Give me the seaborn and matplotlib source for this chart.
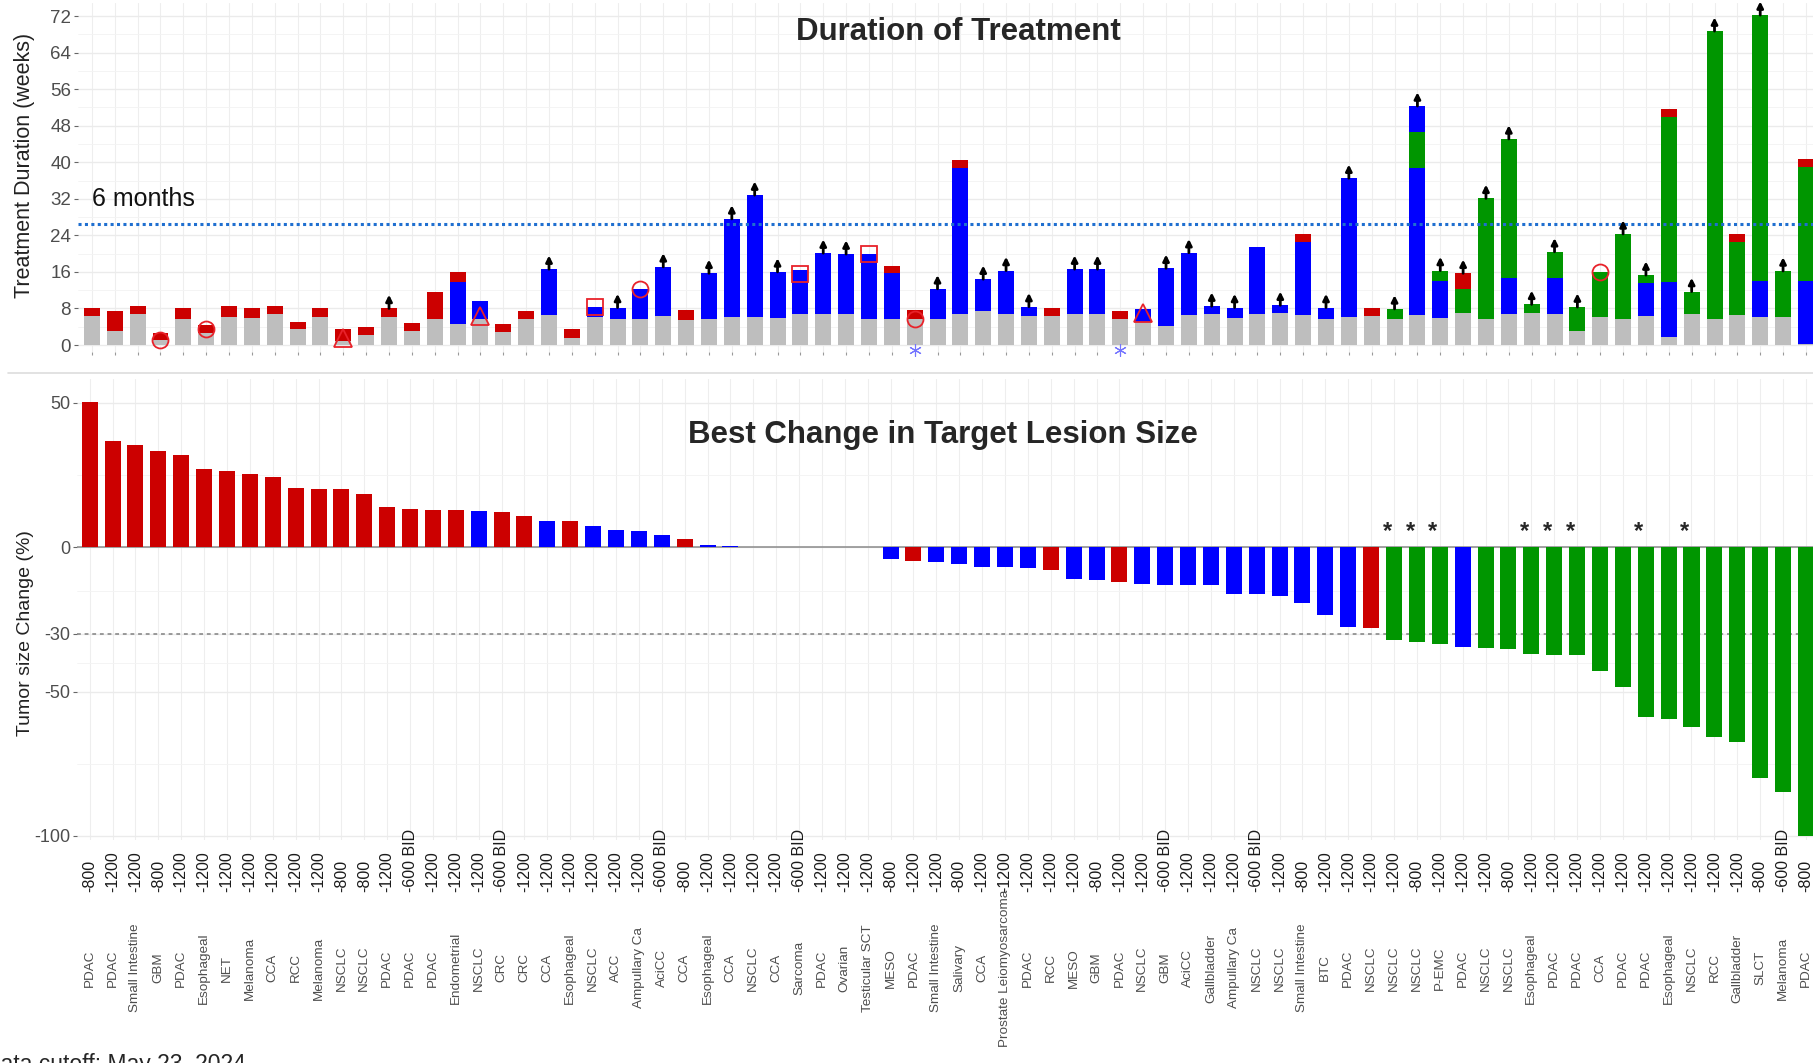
import pandas as pd
import matplotlib.pyplot as plt
import matplotlib.transforms as mtransforms
from matplotlib.lines import Line2D
import seaborn as sns

# patients, left to right
cancers = ["PDAC", "PDAC", "Small Intestine", "GBM", "PDAC", "Esophageal", "NET", "Melanoma", "CCA", "RCC",
           "Melanoma", "NSCLC", "NSCLC", "PDAC", "PDAC", "PDAC", "Endometrial", "NSCLC", "CRC", "CRC",
           "CCA", "Esophageal", "NSCLC", "ACC", "Ampullary Ca", "AciCC", "CCA", "Esophageal", "CCA", "NSCLC",
           "CCA", "Sarcoma", "PDAC", "Ovarian", "Testicular SCT", "MESO", "PDAC", "Small Intestine", "Salivary", "CCA",
           "Prostate Leiomyosarcoma", "PDAC", "RCC", "MESO", "GBM", "PDAC", "NSCLC", "GBM", "AciCC", "Gallbladder",
           "Ampullary Ca", "NSCLC", "NSCLC", "Small Intestine", "BTC", "PDAC", "NSCLC", "NSCLC", "NSCLC", "P-EMC",
           "PDAC", "NSCLC", "NSCLC", "Esophageal", "PDAC", "PDAC", "CCA", "PDAC", "PDAC", "Esophageal",
           "NSCLC", "RCC", "Gallbladder", "SLCT", "Melanoma", "PDAC"]
doses = ["-800", "-1200", "-1200", "-800", "-1200", "-1200", "-1200", "-1200", "-1200", "-1200",
         "-1200", "-800", "-800", "-1200", "-600 BID", "-1200", "-1200", "-1200", "-600 BID", "-1200",
         "-1200", "-1200", "-1200", "-1200", "-1200", "-600 BID", "-800", "-1200", "-1200", "-1200",
         "-1200", "-600 BID", "-1200", "-1200", "-1200", "-800", "-1200", "-1200", "-800", "-1200",
         "-1200", "-1200", "-1200", "-1200", "-800", "-1200", "-1200", "-600 BID", "-1200", "-1200",
         "-1200", "-600 BID", "-1200", "-800", "-1200", "-1200", "-1200", "-1200", "-800", "-1200",
         "-1200", "-1200", "-800", "-1200", "-1200", "-1200", "-1200", "-1200", "-1200", "-1200",
         "-1200", "-1200", "-1200", "-800", "-600 BID", "-800"]

# duration of treatment (weeks): grey part, then response phases (status, end week)
dur_gray = [6.3, 3.1, 6.7, 1.2, 5.8, 2.6, 6.2, 6.0, 6.7, 3.4,
            6.2, 0.8, 2.2, 6.2, 3.1, 5.6, 4.6, 5.8, 2.9, 5.6,
            6.6, 1.6, 6.2, 5.8, 5.6, 6.4, 5.5, 5.6, 6.2, 6.1,
            6.0, 6.7, 6.7, 6.7, 5.6, 5.8, 5.6, 5.6, 6.8, 7.5,
            6.7, 6.3, 6.3, 6.7, 6.7, 5.6, 5.1, 4.2, 6.6, 6.7,
            6.0, 6.7, 6.9, 6.6, 5.7, 6.2, 6.4, 5.7, 6.6, 6.0,
            6.9, 5.8, 6.8, 6.9, 6.7, 3.1, 6.2, 5.8, 6.4, 1.7,
            6.7, 5.8, 6.6, 6.2, 6.2, 0.3]
dur_phases = [
    [("PD", 8.2)], [("PD", 7.5)], [("PD", 8.5)], [("PD", 2.7)], [("PD", 8.2)],
    [("PD", 4.4)], [("PD", 8.5)], [("PD", 8.0)], [("PD", 8.5)], [("PD", 5.1)],
    [("PD", 8.0)], [("PD", 3.4)], [("PD", 3.9)], [("PD", 8.0)], [("PD", 4.9)],
    [("PD", 11.6)], [("SD", 13.7), ("PD", 16.0)], [("SD", 9.7)], [("PD", 4.7)], [("PD", 7.5)],
    [("SD", 16.6)], [("PD", 3.4)], [("SD", 8.4)], [("SD", 8.2)], [("SD", 12.2)],
    [("SD", 17.1)], [("PD", 7.7)], [("SD", 15.7)], [("SD", 27.6)], [("SD", 32.8)],
    [("SD", 16.0)], [("SD", 16.4)], [("SD", 20.1)], [("SD", 19.9)], [("SD", 19.9)],
    [("SD", 15.7), ("PD", 17.4)], [("PD", 7.7)], [("SD", 12.3)], [("SD", 38.8), ("PD", 40.5)], [("SD", 14.4)],
    [("SD", 16.3)], [("SD", 8.4)], [("PD", 8.2)], [("SD", 16.6)], [("SD", 16.6)],
    [("PD", 7.4)], [("SD", 7.8)], [("SD", 16.8)], [("SD", 20.2)], [("SD", 8.5)],
    [("SD", 8.2)], [("SD", 21.5)], [("SD", 8.7)], [("SD", 22.6), ("PD", 24.4)], [("SD", 8.2)],
    [("SD", 36.5)], [("PD", 8.2)], [("PR", 7.9)], [("SD", 38.8), ("PR", 46.6), ("SD", 52.3)], [("SD", 14.1), ("PR", 16.3)],
    [("PR", 12.2), ("PD", 15.7)], [("PR", 32.1)], [("SD", 14.7), ("PR", 45.1)], [("PR", 8.9)], [("SD", 14.7), ("PR", 20.4)],
    [("PR", 8.3)], [("PR", 16.0)], [("PR", 24.3)], [("SD", 13.6), ("PR", 15.3)], [("SD", 13.7), ("PR", 49.8), ("PD", 51.6)],
    [("PR", 11.7)], [("PR", 68.7)], [("PR", 22.6), ("PD", 24.4)], [("SD", 14.1), ("PR", 72.2)], [("PR", 16.2)],
    [("SD", 14.1), ("PR", 39.0), ("PD", 40.7)],
]
# patients still on treatment (1-based)
ongoing = [14, 21, 24, 26, 28, 29, 30, 31, 33, 34, 38, 40, 41, 42, 44, 45, 48, 49, 50, 51,
           53, 55, 56, 58, 59, 60, 61, 62, 63, 64, 65, 66, 68, 69, 71, 72, 74, 75]
circle_bars, circle_wk = [4, 6, 25, 37, 67], [1.2, 3.4, 12.3, 5.6, 16.0]
triangle_bars, triangle_wk = [12, 18, 47], [1.6, 6.4, 7.1]
square_bars, square_wk = [23, 32, 35], [8.3, 15.6, 19.9]
star_bars = [37, 46]

# best change in target lesion size (%)
best_change = [50.4, 36.8, 35.3, 33.4, 32.0, 27.0, 26.3, 25.4, 24.2, 20.6,
               20.2, 20.2, 18.3, 13.9, 13.4, 12.9, 12.8, 12.6, 12.1, 10.9,
               9.0, 9.0, 7.4, 6.0, 5.8, 4.1, 3.0, 0.8, 0.3, 0,
               0, 0, 0, 0, 0, -4.2, -4.7, -5.2, -5.7, -6.9,
               -6.9, -7.1, -7.9, -11.0, -11.3, -11.9, -12.7, -13.0, -13.0, -13.0,
               -16.2, -16.3, -16.9, -19.4, -23.4, -27.6, -28.1, -32.1, -32.8, -33.5,
               -34.4, -34.9, -35.2, -37.1, -37.2, -37.2, -42.9, -48.5, -58.7, -59.5,
               -62.1, -65.8, -67.3, -79.8, -84.7, -100]
best_resp = ["PD", "PD", "PD", "PD", "PD", "PD", "PD", "PD", "PD", "PD",
             "PD", "PD", "PD", "PD", "PD", "PD", "PD", "SD", "PD", "PD",
             "SD", "PD", "SD", "SD", "SD", "SD", "PD", "SD", "SD", "NE",
             "NE", "NE", "NE", "NE", "NE", "SD", "PD", "SD", "SD", "SD",
             "SD", "SD", "PD", "SD", "SD", "PD", "SD", "SD", "SD", "SD",
             "SD", "SD", "SD", "SD", "SD", "SD", "PD", "PR", "PR", "PR",
             "SD", "PR", "PR", "PR", "PR", "PR", "PR", "PR", "PR", "PR",
             "PR", "PR", "PR", "PR", "PR", "PR"]
confirmed = [58, 59, 60, 64, 65, 66, 69, 71]

colors = {"PD": "#CC0000", "SD": "#0000FF", "PR": "#009600", "NE": "#BEBEBE"}
GRAY = "#BEBEBE"

sns.set_theme(style="white")
plt.rcParams["font.family"] = ["Liberation Sans", "DejaVu Sans"]
plt.rcParams["axes.unicode_minus"] = False

W, H = 1813, 1063
fig = plt.figure(figsize=(W / 100, H / 100), dpi=100)
fig.patch.set_facecolor("white")

n = len(cancers)
pos = list(range(n))

# ---- top: duration of treatment ----
ax1 = fig.add_axes([78 / W, 1 - 352 / H, (W - 78) / W, 349 / H])
sns.barplot(x=pos, y=dur_gray, color=GRAY, width=0.7, errorbar=None,
            saturation=1, linewidth=0, ax=ax1)
for i in range(n):
    start = dur_gray[i]
    for status, end in dur_phases[i]:
        ax1.bar(i, end - start, bottom=start, width=0.7, color=colors[status], linewidth=0)
        start = end
    if i + 1 in ongoing:
        ax1.annotate("", xy=(i, start + 3.0), xytext=(i, start), annotation_clip=False,
                     arrowprops=dict(arrowstyle="-|>", color="black", lw=2, mutation_scale=9,
                                     shrinkA=0, shrinkB=0))

red = "#E8222A"
ax1.plot([b - 1 for b in circle_bars], circle_wk, "o", ms=11.5, mfc="none", mec=red, mew=1.3)
ax1.plot([b - 1 for b in triangle_bars], triangle_wk, "^", ms=13, mfc="none", mec=red, mew=1.3)
ax1.plot([b - 1 for b in square_bars], square_wk, "s", ms=11, mfc="none", mec=red, mew=1.3)
ax1.plot([b - 1 for b in star_bars], [-1.1] * len(star_bars), ls="none", marker=(6, 2, 0),
         ms=9, mec="#7474FF", mew=0.8, clip_on=False)

ax1.axhline(26.5, color="#1F6FD0", lw=2.2, ls=(0, (1, 1.1)))
ax1.text(0, 30.4, "6 months", fontsize=18, ha="left", va="baseline", color="#111111")

ax1.set_xlim(-0.61, 75.31)
ax1.set_ylim(-1.53, 74.85)
ax1.set_yticks(range(0, 73, 8))
ax1.set_yticks(range(4, 73, 8), minor=True)
ax1.set_xticks(pos)
ax1.set_xticklabels([])
ax1.grid(axis="y", which="major", color="#EBEBEB", lw=1.0)
ax1.grid(axis="y", which="minor", color="#F3F3F3", lw=0.6)
ax1.grid(axis="x", which="major", color="#EEEEEE", lw=0.8)
ax1.set_axisbelow(True)
ax1.tick_params(axis="y", labelsize=13.5, labelcolor="#4D4D4D", length=3, color="#666666",
                width=0.8, pad=2, left=True)
ax1.tick_params(axis="x", length=2.5, color="#999999", width=0.8, bottom=True)
ax1.set_xlabel("")
ax1.set_ylabel("")
for s in ax1.spines.values():
    s.set_visible(False)

# ---- bottom: best change in target lesion ----
df = pd.DataFrame({"pos": pos, "change": best_change, "resp": best_resp})
ax2 = fig.add_axes([77 / W, 1 - 840 / H, (W - 77) / W, 461 / H])
sns.barplot(data=df, x="pos", y="change", hue="resp", palette=colors, dodge=False, width=0.7,
            errorbar=None, saturation=1, legend=False, linewidth=0, ax=ax2)
ax2.axhline(0, color="#8A8A8A", lw=1.1, zorder=0.9)
ax2.axhline(-30, color="#808080", lw=1.1, ls=(0, (2.5, 2.5)), zorder=0.9)
for b in confirmed:
    ax2.text(b - 1.3, 5.6, "*", fontsize=17, fontweight="bold", ha="center", va="center")

ax2.set_xlim(-0.555, 75.31)
ax2.set_ylim(-101.4, 58.3)
ax2.set_yticks([50, 0, -30, -50, -100])
ax2.set_yticks([25, -15, -40, -75], minor=True)
ax2.set_xticks(pos)
ax2.set_xticklabels([])
ax2.grid(axis="y", which="major", color="#EBEBEB", lw=1.0)
ax2.grid(axis="y", which="minor", color="#F3F3F3", lw=0.6)
ax2.grid(axis="x", which="major", color="#EEEEEE", lw=0.8)
ax2.set_axisbelow(True)
ax2.tick_params(axis="y", labelsize=13, labelcolor="#4D4D4D", length=3, color="#666666",
                width=0.8, pad=2, left=True)
ax2.tick_params(axis="x", length=0)
ax2.set_xlabel("")
ax2.set_ylabel("")
for s in ax2.spines.values():
    s.set_visible(False)

# dose + tumour labels under the waterfall
trans = mtransforms.blended_transform_factory(ax2.transData, fig.transFigure)
for i in range(n):
    ax2.text(i, 1 - 892 / H, doses[i], rotation=90, ha="center", va="bottom", fontsize=11.5,
             color="#1A1A1A", transform=trans)
    ax2.text(i, 1 - 968 / H, cancers[i], rotation=90, ha="center", va="center", fontsize=9.7,
             color="#4D4D4D", transform=trans)

# titles and axis labels
fig.text(958 / W, 1 - 32 / H, "Duration of Treatment", fontsize=22.5, fontweight="bold",
         ha="center", va="center")
fig.text(943 / W, 1 - 435 / H, "Best Change in Target Lesion Size", fontsize=22.5,
         fontweight="bold", ha="center", va="center")
fig.text(25 / W, 1 - 165 / H, "Treatment Duration (weeks)", rotation=90, fontsize=15.5,
         ha="center", va="center", color="#222222")
fig.text(26 / W, 1 - 633 / H, "Tumor size Change (%)", rotation=90, fontsize=14,
         ha="center", va="center", color="#222222")
fig.text(-16 / W, 1 - 1053 / H, "Data cutoff: May 23, 2024", fontsize=16.5, ha="left", va="top")

fig.add_artist(Line2D([8 / W, 1], [1 - 373 / H, 1 - 373 / H], color="#DDDDDD", lw=1.2))

fig.savefig("out.png", dpi=100, facecolor="white")
